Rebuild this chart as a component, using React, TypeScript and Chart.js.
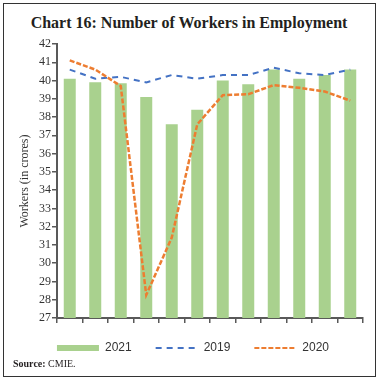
import React, { useEffect, useRef } from "react";
import { Chart, registerables } from "chart.js";

Chart.register(...registerables);

const months = ["Jan", "Feb", "Mar", "Apr", "May", "Jun", "Jul", "Aug", "Sep", "Oct", "Nov", "Dec"];
const workers2021 = [40.1, 39.9, 39.85, 39.1, 37.6, 38.4, 40.0, 39.8, 40.6, 40.1, 40.3, 40.6];
const workers2019 = [40.6, 40.1, 40.2, 39.9, 40.3, 40.1, 40.3, 40.3, 40.7, 40.4, 40.3, 40.6];
const workers2020 = [41.1, 40.6, 39.7, 28.26, 31.4, 37.6, 39.2, 39.25, 39.75, 39.6, 39.4, 38.9];
const yMin = 27;
const yMax = 42;

const GREEN = "#a9d18e";
const BLUE = "#4472c4";
const ORANGE = "#ed7d31";
const AXIS = "#595959";
const TEXT = "#333333";
const FONT = "'Liberation Serif', 'DejaVu Serif', serif";
const SANS = "'Liberation Sans', 'DejaVu Sans', sans-serif";

export default function App() {
  const ref = useRef<HTMLCanvasElement | null>(null);

  useEffect(() => {
    if (!ref.current) return;
    const chart = new Chart(ref.current, {
      type: "bar",
      data: {
        labels: months,
        datasets: [
          {
            type: "bar",
            label: "2021",
            data: workers2021,
            backgroundColor: GREEN,
            borderWidth: 0,
            barPercentage: 0.47,
            categoryPercentage: 1,
            order: 3,
          },
          {
            type: "line",
            label: "2019",
            data: workers2019,
            borderColor: BLUE,
            borderWidth: 2,
            borderDash: [6, 5],
            pointRadius: 0,
            tension: 0,
            fill: false,
            order: 2,
          },
          {
            type: "line",
            label: "2020",
            data: workers2020,
            borderColor: ORANGE,
            borderWidth: 2.5,
            borderDash: [5, 2],
            pointRadius: 0,
            tension: 0,
            fill: false,
            order: 1,
          },
        ],
      },
      options: {
        responsive: false,
        animation: false,
        layout: { padding: { left: 23, right: 18, top: 44, bottom: 17 } },
        plugins: {
          tooltip: { enabled: false },
          title: { display: false },
          legend: {
            position: "bottom",
            labels: {
              usePointStyle: true,
              pointStyleWidth: 42,
              boxHeight: 6,
              padding: 24,
              color: TEXT,
              font: { family: SANS, size: 12 },
              generateLabels: (c: any) =>
                c.data.datasets.map((ds: any, i: number) => ({
                  text: ds.label,
                  fillStyle: i === 0 ? GREEN : "rgba(0,0,0,0)",
                  strokeStyle: i === 0 ? GREEN : ds.borderColor,
                  lineWidth: i === 0 ? 0 : 2,
                  lineDash: i === 0 ? [] : ds.borderDash,
                  pointStyle: i === 0 ? "rect" : "line",
                  datasetIndex: i,
                  hidden: false,
                  fontColor: TEXT,
                })),
            },
          },
        },
        scales: {
          x: {
            offset: true,
            grid: {
              display: true,
              offset: true,
              drawOnChartArea: false,
              drawTicks: true,
              tickLength: 5,
              color: AXIS,
              lineWidth: 1.5,
            },
            border: { display: true, color: AXIS, width: 2 },
            ticks: {
              color: TEXT,
              font: { family: FONT, size: 12 },
              padding: 1,
              maxRotation: 0,
              autoSkip: false,
            },
            afterFit: (s: any) => {
              s.height = 0;
            },
          },
          y: {
            min: yMin,
            max: yMax,
            grid: {
              display: true,
              drawOnChartArea: false,
              drawTicks: true,
              tickLength: 5,
              color: AXIS,
              lineWidth: 1.5,
            },
            border: { display: true, color: AXIS, width: 2 },
            ticks: {
              stepSize: 1,
              color: TEXT,
              font: { family: FONT, size: 12 },
              padding: 1,
            },
            title: {
              display: true,
              text: "Workers (in crores)",
              color: TEXT,
              font: { family: FONT, size: 12 },
              padding: { top: -5, bottom: 0 },
            },
            afterFit: (s: any) => {
              s.width = 34;
            },
          },
        },
      },
    });
    return () => chart.destroy();
  }, []);

  return (
    <div style={{ position: "absolute", left: 0, top: 0, width: 381, height: 381, background: "#fff" }}>
      <div
        style={{
          position: "absolute",
          left: 3,
          top: 3,
          width: 373,
          height: 374,
          boxSizing: "border-box",
          border: "1.5px solid #333",
        }}
      />
      <div
        style={{
          position: "absolute",
          left: 0,
          top: 12,
          width: 378,
          textAlign: "center",
          fontFamily: FONT,
          fontWeight: "bold",
          fontSize: 16,
          color: "#231f20",
          lineHeight: "22px",
        }}
      >
        Chart 16: Number of Workers in Employment
      </div>
      <canvas ref={ref} width={381} height={381} style={{ position: "absolute", left: 0, top: 0, display: "block" }} />
      <div
        style={{
          position: "absolute",
          left: 13,
          top: 357,
          fontFamily: FONT,
          fontSize: 10,
          color: "#231f20",
          lineHeight: "14px",
        }}
      >
        <b>Source:</b> CMIE.
      </div>
    </div>
  );
}
